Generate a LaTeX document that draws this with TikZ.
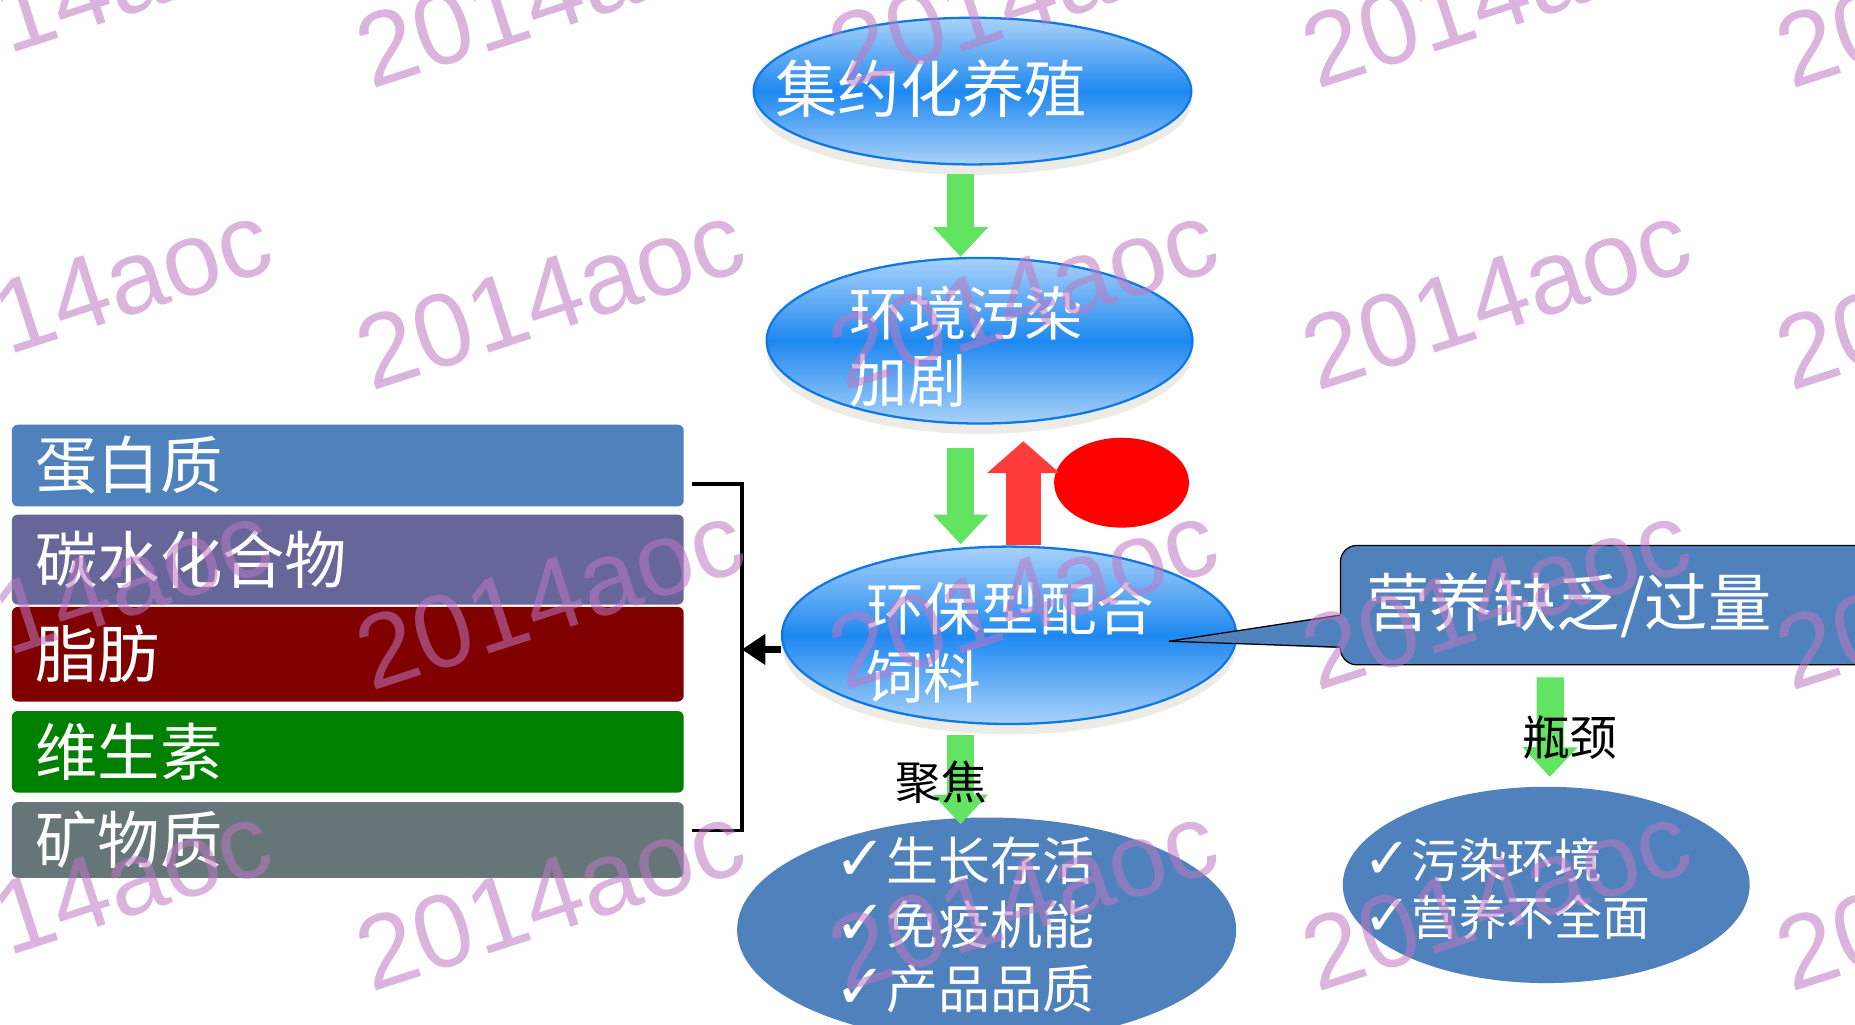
\documentclass[tikz,border=0pt]{standalone}
\usepackage{fontspec}
\newfontfamily\cjk{Noto Sans CJK SC}
\newfontfamily\symf{DejaVu Sans}
\newfontfamily\wmf{Liberation Sans}
\usetikzlibrary{shapes.geometric,arrows.meta,calc}
\definecolor{boxblue}{HTML}{4F81BD}
\definecolor{boxpurple}{HTML}{666699}
\definecolor{boxred}{HTML}{800000}
\definecolor{boxgreen}{HTML}{008000}
\definecolor{boxgray}{HTML}{667678}
\definecolor{emid}{HTML}{1E88F0}
\definecolor{elight}{HTML}{A9D2FA}
\definecolor{ebord}{HTML}{0F78E6}
\definecolor{shadowc}{HTML}{ECEBE5}
\definecolor{gfill}{HTML}{62E362}
\definecolor{rfill}{HTML}{FF3B3B}
\definecolor{redell}{HTML}{FF0000}
\definecolor{wmc}{RGB}{190,120,195}
\newcommand\chk{{\symf\scalebox{1.2}{✓}}}
\begin{document}
\begin{tikzpicture}[x=0.02cm,y=-0.02cm,
  glossy/.style={ellipse, draw=ebord, line width=1.1pt, inner sep=0,
    top color=elight, bottom color=elight, middle color=emid,
    preaction={fill=shadowc, transform canvas={yshift=-5pt}}},
  flat/.style={ellipse, fill=boxblue, inner sep=0},
  wtxt/.style={text=white, inner sep=0, anchor=west, align=left},
  btxt/.style={text=black, inner sep=0, font=\cjk\fontsize{23}{27}\selectfont},
  box/.style={rectangle, rounded corners=0.1cm, minimum width=11.36cm, text width=10.56cm,
    inner xsep=0.4cm, inner ysep=0, align=left, text=white, font=\cjk\fontsize{30}{36}\selectfont},
  garrow/.style={draw=gfill, line width=0.46cm, -{Triangle[length=0.5cm,width=0.9cm]}},
  rarrow/.style={draw=rfill, line width=0.6cm, -{Triangle[length=0.54cm,width=1.2cm]}},
  karrow/.style={draw=black, line width=0.12cm, -{Triangle[length=0.4cm,width=0.5cm]}},
  wm/.style={rotate=18, text=wmc, opacity=0.55, font=\wmf\fontsize{50}{52}\selectfont, inner sep=0}
]
\useasboundingbox (0,0) rectangle (1568,866);
\clip (0,0) rectangle (1568,866);
\fill[white] (0,0) rectangle (1568,866);

% left boxes
\node[box, fill=boxblue,   minimum height=1.38cm] (b1) at (294,393.5) {蛋白质};
\node[box, fill=boxpurple, minimum height=1.52cm] (b2) at (294,473) {碳水化合物};
\node[box, fill=boxred,    minimum height=1.6cm]  (b3) at (294,553) {脂肪};
\node[box, fill=boxgreen,  minimum height=1.38cm] (b4) at (294,635.5) {维生素};
\node[box, fill=boxgray,   minimum height=1.28cm] (b5) at (294,710) {矿物质};

% bracket
\coordinate (brT0) at (585,409);
\coordinate (brT) at (627,409);
\coordinate (brB) at (627,702);
\coordinate (brB0) at (585,702);
\coordinate (brM) at (627,549);
\draw[line width=0.06cm] (brT0) -- (brT) -- (brB) -- (brB0);

% glossy ellipses
\node[glossy, minimum width=7.4cm, minimum height=2.48cm] (e1) at (822,77) {};
\node[glossy, minimum width=7.2cm, minimum height=2.8cm] (e2) at (828,288) {};
\node[glossy, minimum width=7.68cm, minimum height=3.0cm] (e3) at (853,537) {};
\node[fill=redell, ellipse, inner sep=0, minimum width=2.28cm, minimum height=1.52cm] (red) at (948,408) {};

% flat ellipses
\node[flat, minimum width=6.88cm, minimum height=3.32cm] (e4) at (1307,748) {};
\node[flat, minimum width=8.44cm, minimum height=3.8cm] (e5) at (834,786) {};

% callout
\node[rectangle, rounded corners=0.28cm, draw=black, line width=0.6pt, fill=boxblue,
  minimum width=9.34cm, minimum height=2.02cm, text width=8.46cm, inner xsep=0.44cm,
  align=left, text=white, font=\cjk\fontsize{30.5}{36}\selectfont] (co) at (1366.5,511.5) {营养缺乏/过量};
\coordinate (tip) at (988,542);
\coordinate (cp1) at (co.west |- 0,520);
\coordinate (cp2) at (co.west |- 0,547);
\fill[boxblue] ($(cp1)+(3,-1)$) -- (tip) -- ($(cp2)+(3,1)$) -- cycle;
\draw[line width=0.6pt] (cp1) -- (tip) -- (cp2);

% texts
\node[wtxt, font=\cjk\fontsize{30}{36}\selectfont] (t1) at (655,75) {集约化养殖};
\node[wtxt, font=\cjk\fontsize{28}{32.4}\selectfont] (t2) at (718,293) {环境污染\\加剧};
\node[wtxt, font=\cjk\fontsize{27.7}{32.4}\selectfont] (t3) at (732,543) {环保型配合\\饲料};
\node[wtxt, font=\cjk\fontsize{25}{30.7}\selectfont] (t5) at (705,782) {\chk 生长存活\\\chk 免疫机能\\\chk 产品品质};
\node[wtxt, font=\cjk\fontsize{23}{27.3}\selectfont] (t4) at (1152,751) {\chk 污染环境\\\chk 营养不全面};

% arrows
\draw[garrow] ($(e1.south)+(-10,7)$) -- ($(e2.north)+(-16,0)$);
\draw[garrow] ($(e2.south)+(-16,20)$) -- ($(e3.north)+(-41,-1)$);
\draw[rarrow] ($(e3.north)+(12,0)$) -- ($(e2.south)+(37,14)$);
\draw[garrow] ($(e3.south)+(-41,8)$) -- ($(e5.north)+(-22,6)$);
\draw[garrow] ($(co.south)+(-56,10)$) -- ($(e4.north)+(3,-8)$);
\draw[karrow] (e3.west |- brM) -- (brM);

\node[btxt, font=\cjk\fontsize{22}{26}\selectfont] (jj) at (796,661) {聚焦};
\node[btxt] (pj) at (1327,623) {瓶颈};

% watermark
\foreach \cx in {65,465,865,1265,1665}{
  \foreach \cy in {-5,250,504,758}{
    \node[wm] (w\cx x\cy) at (\cx,\cy) {2014aoc};
  }
}
\end{tikzpicture}
\end{document}
